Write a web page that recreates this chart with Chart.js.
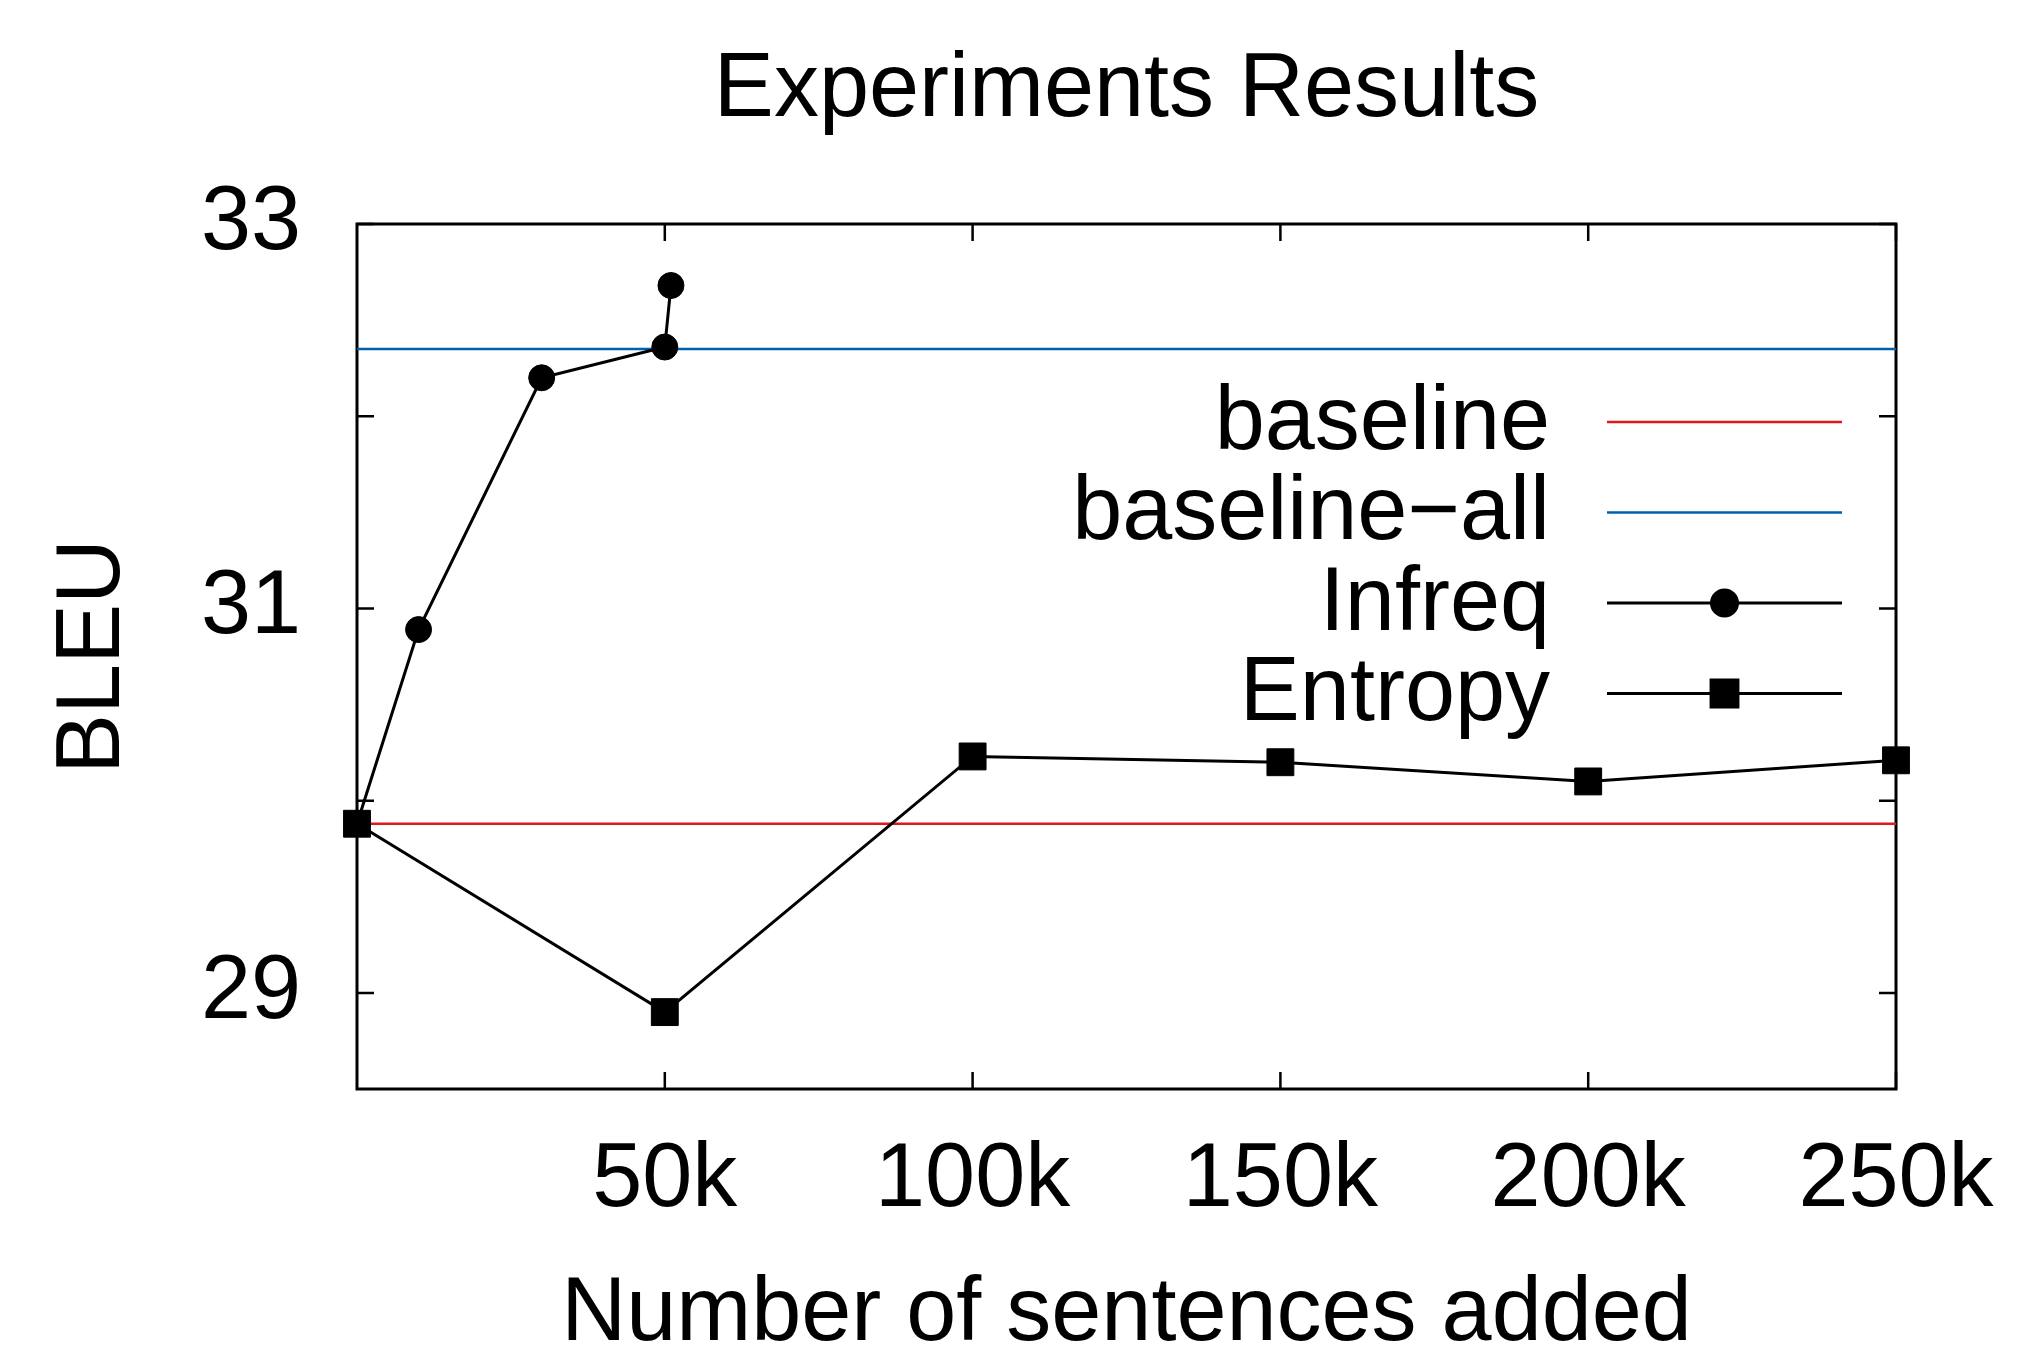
<!DOCTYPE html>
<html>
<head>
<meta charset="utf-8">
<title>Experiments Results</title>
<script src="https://cdn.jsdelivr.net/npm/chart.js@4.4.0/dist/chart.umd.min.js"></script>
<style>
  html, body { margin: 0; padding: 0; background: #fff; }
  #wrap { width: 2042px; height: 1349px; position: relative; }
</style>
</head>
<body>
<div id="wrap"><canvas id="bleuChart"></canvas></div>
<script>
// values (BLEU vs. sentences added)
const seriesNames = ["baseline", "baseline\u2212all", "Infreq", "Entropy"];
const xRange = [0, 250000];
const baselineBleu = [29.88, 29.88];
const baselineAllBleu = [32.35, 32.35];
const infreqSentences = [0, 10000, 30000, 50000, 51000];
const infreqBleu = [29.88, 30.89, 32.20, 32.36, 32.68];
const entropySentences = [0, 50000, 100000, 150000, 200000, 250000];
const entropyBleu = [29.88, 28.90, 30.23, 30.20, 30.10, 30.21];

const xTickValues = [50000, 100000, 150000, 200000, 250000];
const xTickLabels = ["50k", "100k", "150k", "200k", "250k"];
const yTickValues = [29, 30, 31, 32, 33];
const yTickLabels = ["29", "", "31", "", "33"];

const FONT = "'Liberation Sans', Arial, Helvetica, sans-serif";
const FS = 90;
const RED = "#dd181f";
const BLUE = "#0060ad";

const toPoints = (xs, ys) => xs.map((v, i) => ({ x: v, y: ys[i] }));

// gnuplot style frame: box on all four sides, ticks pointing inwards
const frameTicks = {
  id: "frameTicks",
  beforeDatasetsDraw(chart) {
    const { ctx, chartArea: a, scales: { x, y } } = chart;
    const len = 17;
    ctx.save();
    ctx.strokeStyle = "#000";
    ctx.lineWidth = 2.5;
    ctx.beginPath();
    xTickValues.forEach(v => {
      const px = x.getPixelForValue(v);
      ctx.moveTo(px, a.bottom); ctx.lineTo(px, a.bottom - len);
      ctx.moveTo(px, a.top);    ctx.lineTo(px, a.top + len);
    });
    yTickValues.forEach(v => {
      const py = y.getPixelForValue(v);
      ctx.moveTo(a.left, py);  ctx.lineTo(a.left + len, py);
      ctx.moveTo(a.right, py); ctx.lineTo(a.right - len, py);
    });
    ctx.stroke();
    ctx.lineWidth = 3;
    ctx.strokeRect(a.left, a.top, a.right - a.left, a.bottom - a.top);
    ctx.restore();
  }
};

// key inside the plot, text right-aligned and sample to its right
const insideKey = {
  id: "insideKey",
  afterDatasetsDraw(chart) {
    const { ctx, chartArea: a } = chart;
    const textRight = a.right - 346;
    const sampleL = a.right - 289;
    const sampleR = a.right - 54;
    const top = a.top + 198;
    const step = 90.5;
    ctx.save();
    ctx.font = FS + "px " + FONT;
    ctx.textAlign = "right";
    ctx.textBaseline = "middle";
    chart.data.datasets.forEach((ds, i) => {
      const yy = top + i * step;
      ctx.fillStyle = "#000";
      ctx.fillText(ds.label, textRight, yy + 2);
      ctx.strokeStyle = ds.borderColor;
      ctx.lineWidth = ds.borderWidth;
      ctx.beginPath();
      ctx.moveTo(sampleL, yy);
      ctx.lineTo(sampleR, yy);
      ctx.stroke();
      if (ds.pointRadius > 0) {
        ctx.fillStyle = ds.pointBackgroundColor;
        ctx.strokeStyle = ds.pointBorderColor;
        Chart.helpers.drawPoint(ctx, {
          pointStyle: ds.pointStyle, rotation: 0,
          radius: ds.pointRadius, borderWidth: ds.pointBorderWidth
        }, (sampleL + sampleR) / 2, yy);
      }
    });
    ctx.restore();
  }
};

const ctx = document.getElementById("bleuChart").getContext("2d");

new Chart(ctx, {
  type: "line",
  data: {
    datasets: [
      {
        label: seriesNames[0],
        data: toPoints(xRange, baselineBleu),
        borderColor: RED, borderWidth: 2.5,
        pointRadius: 0, order: 4, clip: false,
      },
      {
        label: seriesNames[1],
        data: toPoints(xRange, baselineAllBleu),
        borderColor: BLUE, borderWidth: 2.5,
        pointRadius: 0, order: 3, clip: false,
      },
      {
        label: seriesNames[2],
        data: toPoints(infreqSentences, infreqBleu),
        borderColor: "#000", borderWidth: 3,
        pointStyle: "circle", pointRadius: 13,
        pointBackgroundColor: "#000", pointBorderColor: "#000", pointBorderWidth: 1,
        order: 2, clip: false,
      },
      {
        label: seriesNames[3],
        data: toPoints(entropySentences, entropyBleu),
        borderColor: "#000", borderWidth: 3,
        pointStyle: "rect", pointRadius: 19,
        pointBackgroundColor: "#000", pointBorderColor: "#000", pointBorderWidth: 1,
        order: 1, clip: false,
      },
    ],
  },
  options: {
    responsive: true,
    maintainAspectRatio: false,
    animation: false,
    layout: { padding: { left: 0, right: 146, top: 0, bottom: 0 } },
    plugins: {
      legend: { display: false },
      tooltip: { enabled: false },
      title: {
        display: true,
        text: "Experiments Results",
        fullSize: false,
        color: "#000",
        font: { size: FS, family: FONT, weight: "normal", lineHeight: 1.2 },
        padding: { top: 37, bottom: 79 },
      },
    },
    scales: {
      x: {
        type: "linear",
        min: xRange[0],
        max: xRange[1],
        grid: { display: false, drawTicks: false },
        border: { display: false },
        afterBuildTicks: s => { s.ticks = xTickValues.map(v => ({ value: v })); },
        afterFit: s => { s.height = 260; },
        ticks: {
          autoSkip: false,
          maxRotation: 0,
          padding: 38,
          color: "#000",
          font: { size: FS, family: FONT, lineHeight: 1.2 },
          callback: v => xTickLabels[xTickValues.indexOf(v)],
        },
        title: {
          display: true,
          text: "Number of sentences added",
          color: "#000",
          font: { size: FS, family: FONT, lineHeight: 0.8 },
          padding: { top: 0, bottom: -2 },
        },
      },
      y: {
        type: "linear",
        min: 28.5,
        max: 33,
        grid: { display: false, drawTicks: false },
        border: { display: false },
        afterBuildTicks: s => { s.ticks = yTickValues.map(v => ({ value: v })); },
        afterFit: s => { s.width = 357; },
        ticks: {
          padding: 56,
          color: "#000",
          font: { size: FS, family: FONT, lineHeight: 1.2 },
          callback: v => yTickLabels[yTickValues.indexOf(v)],
        },
        title: {
          display: true,
          text: "BLEU",
          color: "#000",
          font: { size: FS, family: FONT, lineHeight: 0.8 },
          padding: { top: 58, bottom: 0 },
        },
      },
    },
  },
  plugins: [frameTicks, insideKey],
});
</script>
</body>
</html>
